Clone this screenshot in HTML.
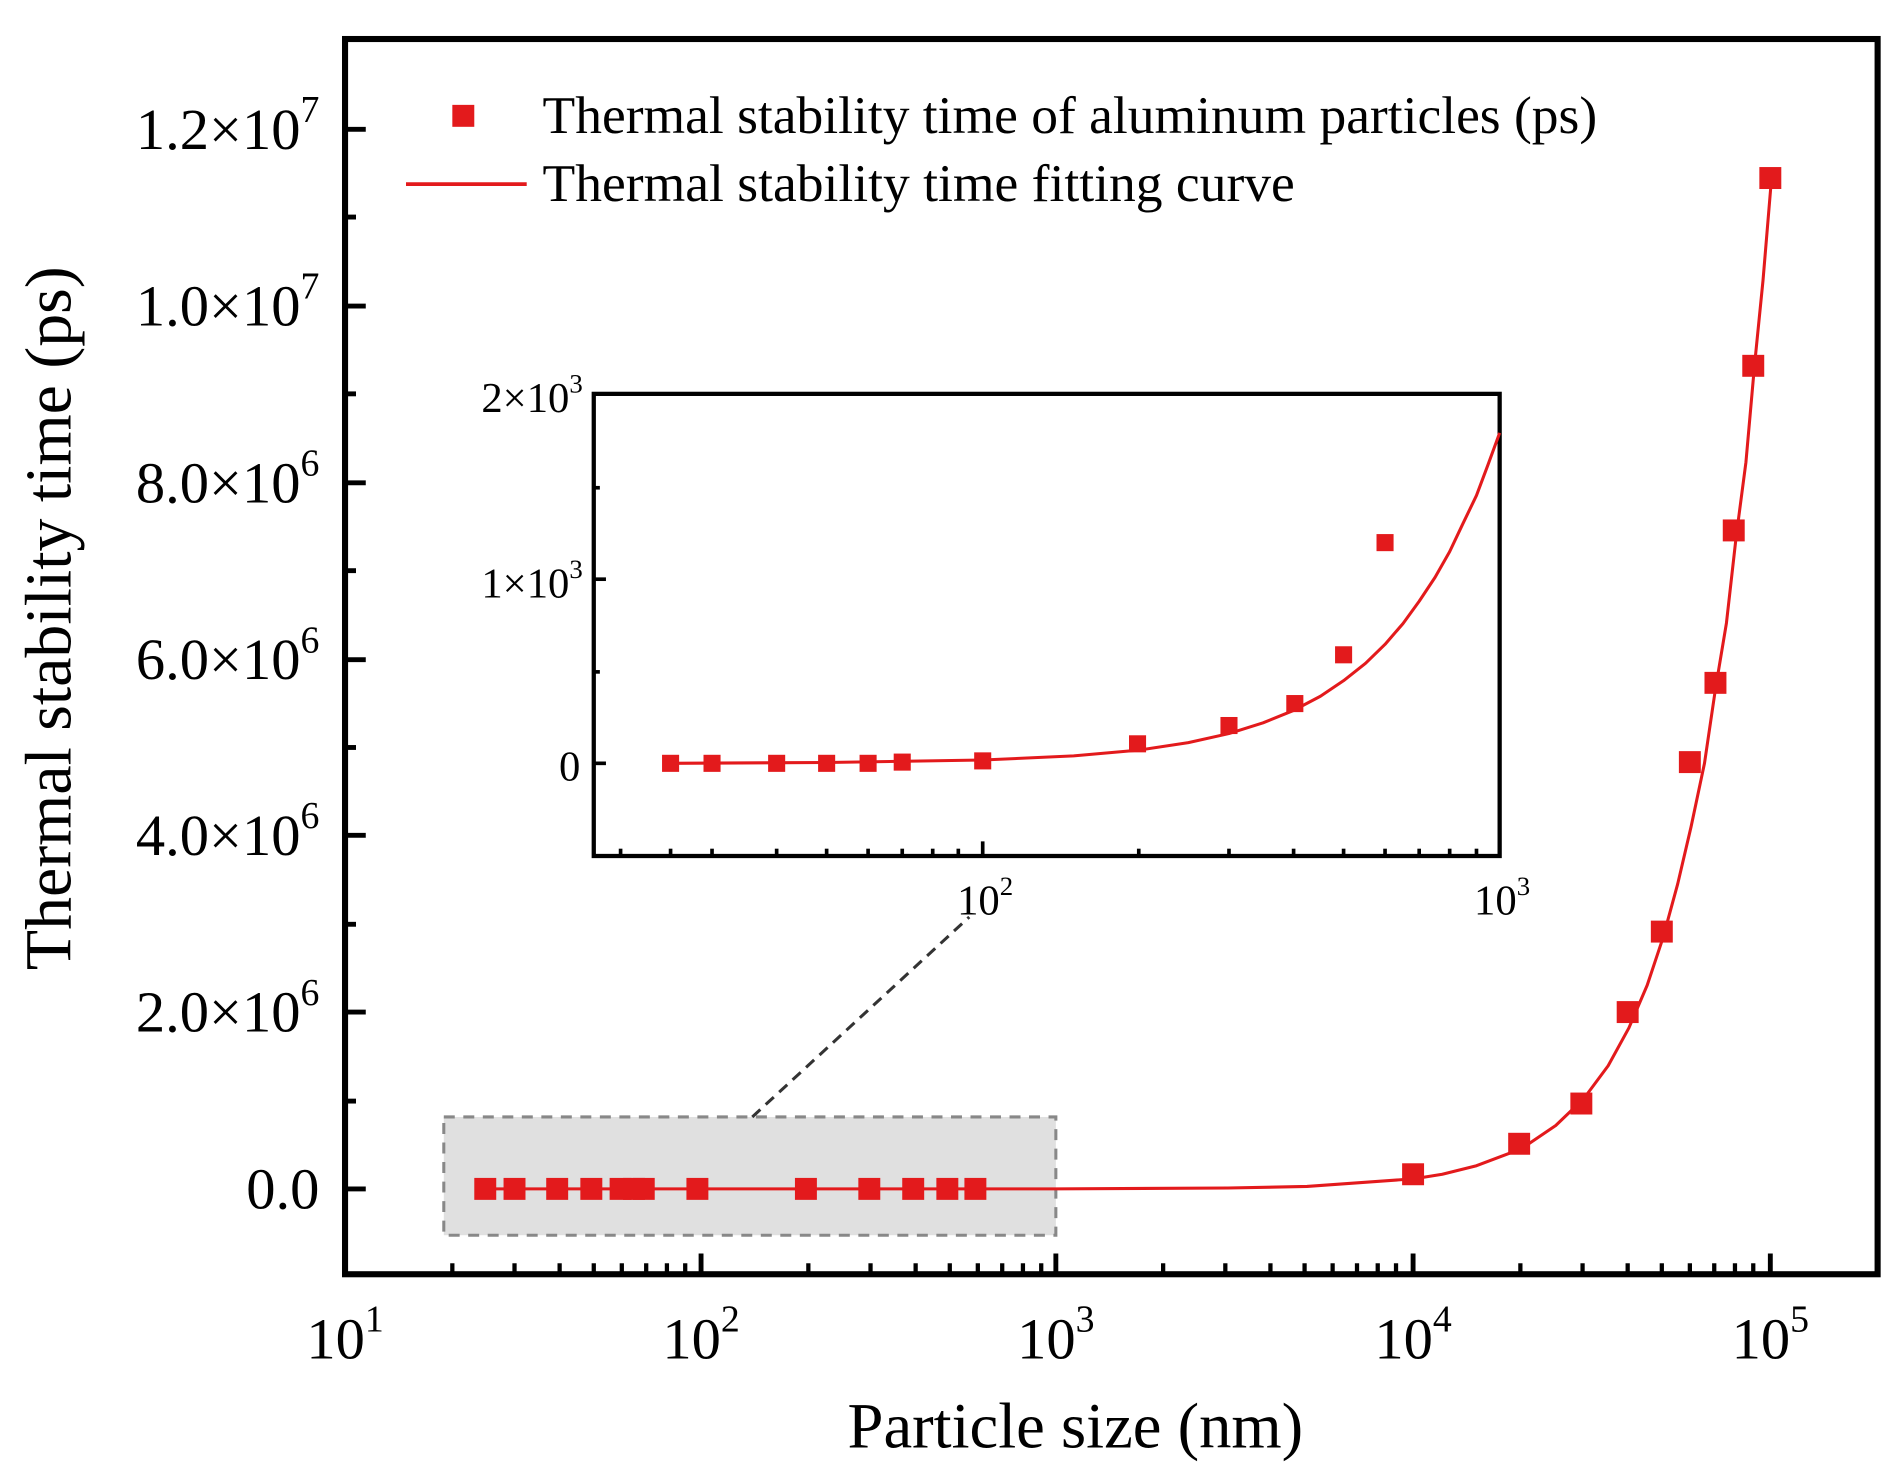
<!DOCTYPE html>
<html><head><meta charset="utf-8"><style>
html,body{margin:0;padding:0;background:#fff;}
svg{display:block;}
text{font-family:"Liberation Serif",serif;fill:#000;}
</style></head><body>
<svg width="1902" height="1473" viewBox="0 0 1560 1208" preserveAspectRatio="none" xmlns="http://www.w3.org/2000/svg">
<rect x="364" y="916" width="502" height="97" fill="#e0e0e0" stroke="#888" stroke-width="2.5" stroke-dasharray="9,7"/>
<line x1="617" y1="916" x2="795" y2="752" stroke="#333" stroke-width="2.5" stroke-dasharray="9,6"/>
<rect x="283" y="32" width="1257" height="1013" fill="none" stroke="#000" stroke-width="5"/>
<g stroke="#000" stroke-width="4">
<line x1="283" y1="975" x2="300" y2="975"/><line x1="283" y1="830" x2="300" y2="830"/><line x1="283" y1="685" x2="300" y2="685"/><line x1="283" y1="541" x2="300" y2="541"/><line x1="283" y1="396" x2="300" y2="396"/><line x1="283" y1="251" x2="300" y2="251"/><line x1="283" y1="106" x2="300" y2="106"/>
<line x1="283" y1="903" x2="292" y2="903"/><line x1="283" y1="758" x2="292" y2="758"/><line x1="283" y1="613" x2="292" y2="613"/><line x1="283" y1="468" x2="292" y2="468"/><line x1="283" y1="323" x2="292" y2="323"/><line x1="283" y1="178" x2="292" y2="178"/>
</g>
<g stroke="#000" stroke-width="4">
<line x1="575" y1="1045" x2="575" y2="1028"/><line x1="866" y1="1045" x2="866" y2="1028"/><line x1="1159" y1="1045" x2="1159" y2="1028"/><line x1="1452" y1="1045" x2="1452" y2="1028"/>
</g>
<g stroke="#000" stroke-width="3.5">
<line x1="371" y1="1045" x2="371" y2="1036"/><line x1="422" y1="1045" x2="422" y2="1036"/><line x1="459" y1="1045" x2="459" y2="1036"/><line x1="487" y1="1045" x2="487" y2="1036"/><line x1="510" y1="1045" x2="510" y2="1036"/><line x1="530" y1="1045" x2="530" y2="1036"/><line x1="547" y1="1045" x2="547" y2="1036"/><line x1="562" y1="1045" x2="562" y2="1036"/>
<line x1="663" y1="1045" x2="663" y2="1036"/><line x1="714" y1="1045" x2="714" y2="1036"/><line x1="751" y1="1045" x2="751" y2="1036"/><line x1="779" y1="1045" x2="779" y2="1036"/><line x1="802" y1="1045" x2="802" y2="1036"/><line x1="822" y1="1045" x2="822" y2="1036"/><line x1="839" y1="1045" x2="839" y2="1036"/><line x1="854" y1="1045" x2="854" y2="1036"/>
<line x1="954" y1="1045" x2="954" y2="1036"/><line x1="1005" y1="1045" x2="1005" y2="1036"/><line x1="1042" y1="1045" x2="1042" y2="1036"/><line x1="1070" y1="1045" x2="1070" y2="1036"/><line x1="1093" y1="1045" x2="1093" y2="1036"/><line x1="1113" y1="1045" x2="1113" y2="1036"/><line x1="1130" y1="1045" x2="1130" y2="1036"/><line x1="1145" y1="1045" x2="1145" y2="1036"/>
<line x1="1247" y1="1045" x2="1247" y2="1036"/><line x1="1298" y1="1045" x2="1298" y2="1036"/><line x1="1335" y1="1045" x2="1335" y2="1036"/><line x1="1363" y1="1045" x2="1363" y2="1036"/><line x1="1386" y1="1045" x2="1386" y2="1036"/><line x1="1406" y1="1045" x2="1406" y2="1036"/><line x1="1423" y1="1045" x2="1423" y2="1036"/><line x1="1438" y1="1045" x2="1438" y2="1036"/>
<line x1="1540" y1="1045" x2="1540" y2="1036"/>
</g>
<g font-size="48" text-anchor="end">
<text x="262" y="991">0.0</text>
<text x="262" y="846">2.0×10<tspan font-size="31" dy="-22">6</tspan></text>
<text x="262" y="701">4.0×10<tspan font-size="31" dy="-22">6</tspan></text>
<text x="262" y="557">6.0×10<tspan font-size="31" dy="-22">6</tspan></text>
<text x="262" y="412">8.0×10<tspan font-size="31" dy="-22">6</tspan></text>
<text x="262" y="267">1.0×10<tspan font-size="31" dy="-22">7</tspan></text>
<text x="262" y="122">1.2×10<tspan font-size="31" dy="-22">7</tspan></text>
</g>
<g font-size="48" text-anchor="middle">
<text x="283" y="1114">10<tspan font-size="31" dy="-22">1</tspan></text>
<text x="575" y="1114">10<tspan font-size="31" dy="-22">2</tspan></text>
<text x="866" y="1114">10<tspan font-size="31" dy="-22">3</tspan></text>
<text x="1159" y="1114">10<tspan font-size="31" dy="-22">4</tspan></text>
<text x="1452" y="1114">10<tspan font-size="31" dy="-22">5</tspan></text>
</g>
<text x="882" y="1187" font-size="53" text-anchor="middle">Particle size (nm)</text>
<text transform="translate(58,507) rotate(-90)" font-size="54" text-anchor="middle">Thermal stability time (ps)</text>
<rect x="371" y="86" width="18" height="18" fill="#e31a1c"/>
<text x="445" y="109" font-size="43" textLength="865" lengthAdjust="spacingAndGlyphs">Thermal stability time of aluminum particles (ps)</text>
<line x1="333" y1="151" x2="432" y2="151" stroke="#e31a1c" stroke-width="3"/>
<text x="445" y="165" font-size="43" textLength="617" lengthAdjust="spacingAndGlyphs">Thermal stability time fitting curve</text>
<polyline fill="none" stroke="#e31a1c" stroke-width="2.5" stroke-linejoin="round" points="397,975 866,975 1007,974.3 1072,973 1160,966.7 1183,963 1211,956 1248,942 1276,923 1299,901 1319,874 1336,843 1351,808 1364,769 1376,725 1387,678 1398,626 1407,565 1416,511 1424,440 1432,379 1439,300 1446,230 1453,146"/>
<g fill="#e31a1c">
<rect x="389" y="966" width="18" height="18"/><rect x="413" y="966" width="18" height="18"/><rect x="448" y="966" width="18" height="18"/><rect x="476" y="966" width="18" height="18"/><rect x="500" y="966" width="18" height="18"/><rect x="511" y="966" width="18" height="18"/><rect x="519" y="966" width="18" height="18"/><rect x="563" y="966" width="18" height="18"/><rect x="652" y="966" width="18" height="18"/><rect x="704" y="966" width="18" height="18"/><rect x="740" y="966" width="18" height="18"/><rect x="768" y="966" width="18" height="18"/><rect x="791" y="966" width="18" height="18"/>
<rect x="1150" y="954" width="18" height="18"/><rect x="1237" y="929" width="18" height="18"/><rect x="1288" y="896" width="18" height="18"/><rect x="1326" y="821" width="18" height="18"/><rect x="1354" y="755" width="18" height="18"/><rect x="1377" y="616" width="18" height="18"/><rect x="1398" y="551" width="18" height="18"/><rect x="1413" y="426" width="18" height="18"/><rect x="1429" y="291" width="18" height="18"/><rect x="1443" y="137" width="18" height="18"/>
</g>
<rect x="487" y="323" width="743" height="379" fill="none" stroke="#000" stroke-width="3.5"/>
<g stroke="#000" stroke-width="3">
<line x1="487" y1="626" x2="497" y2="626"/><line x1="487" y1="475" x2="497" y2="475"/><line x1="487" y1="551" x2="492" y2="551"/><line x1="487" y1="400" x2="492" y2="400"/>
<line x1="806" y1="702" x2="806" y2="690"/><line x1="1230" y1="702" x2="1230" y2="690"/>
<line x1="509" y1="702" x2="509" y2="696"/><line x1="550" y1="702" x2="550" y2="696"/><line x1="584" y1="702" x2="584" y2="696"/><line x1="637" y1="702" x2="637" y2="696"/><line x1="678" y1="702" x2="678" y2="696"/><line x1="712" y1="702" x2="712" y2="696"/><line x1="740" y1="702" x2="740" y2="696"/><line x1="765" y1="702" x2="765" y2="696"/><line x1="786" y1="702" x2="786" y2="696"/>
<line x1="934" y1="702" x2="934" y2="696"/><line x1="1008" y1="702" x2="1008" y2="696"/><line x1="1061" y1="702" x2="1061" y2="696"/><line x1="1102" y1="702" x2="1102" y2="696"/><line x1="1136" y1="702" x2="1136" y2="696"/><line x1="1164" y1="702" x2="1164" y2="696"/><line x1="1189" y1="702" x2="1189" y2="696"/><line x1="1211" y1="702" x2="1211" y2="696"/>
</g>
<g font-size="35" text-anchor="end">
<text x="478" y="338">2×10<tspan font-size="22" dy="-16">3</tspan></text>
<text x="478" y="490">1×10<tspan font-size="22" dy="-16">3</tspan></text>
<text x="476" y="640">0</text>
</g>
<g font-size="35" text-anchor="middle">
<text x="808" y="750">10<tspan font-size="22" dy="-16">2</tspan></text>
<text x="1232" y="750">10<tspan font-size="22" dy="-16">3</tspan></text>
</g>
<polyline fill="none" stroke="#e31a1c" stroke-width="2.5" stroke-linejoin="round" points="550,626 678,625.3 806,623.3 880.6,619.9 934,615.2 974.7,609 1008,601.6 1036,592.8 1061,582.6 1083,571 1102,558.2 1120,544 1136,528.4 1150.7,511.4 1164,493.1 1177,473.5 1189,452.4 1199.6,430 1211,406.3 1220.5,381 1230,355"/>
<g fill="#e31a1c">
<rect x="543" y="619" width="14" height="14"/><rect x="577" y="619" width="14" height="14"/><rect x="630" y="619" width="14" height="14"/><rect x="671" y="619" width="14" height="14"/><rect x="705" y="619" width="14" height="14"/><rect x="733" y="618" width="14" height="14"/><rect x="799" y="617" width="14" height="14"/><rect x="926" y="603" width="14" height="14"/><rect x="1001" y="588" width="14" height="14"/><rect x="1055" y="570" width="14" height="14"/><rect x="1095" y="530" width="14" height="14"/><rect x="1129" y="438" width="14" height="14"/>
</g>
</svg>
</body></html>
